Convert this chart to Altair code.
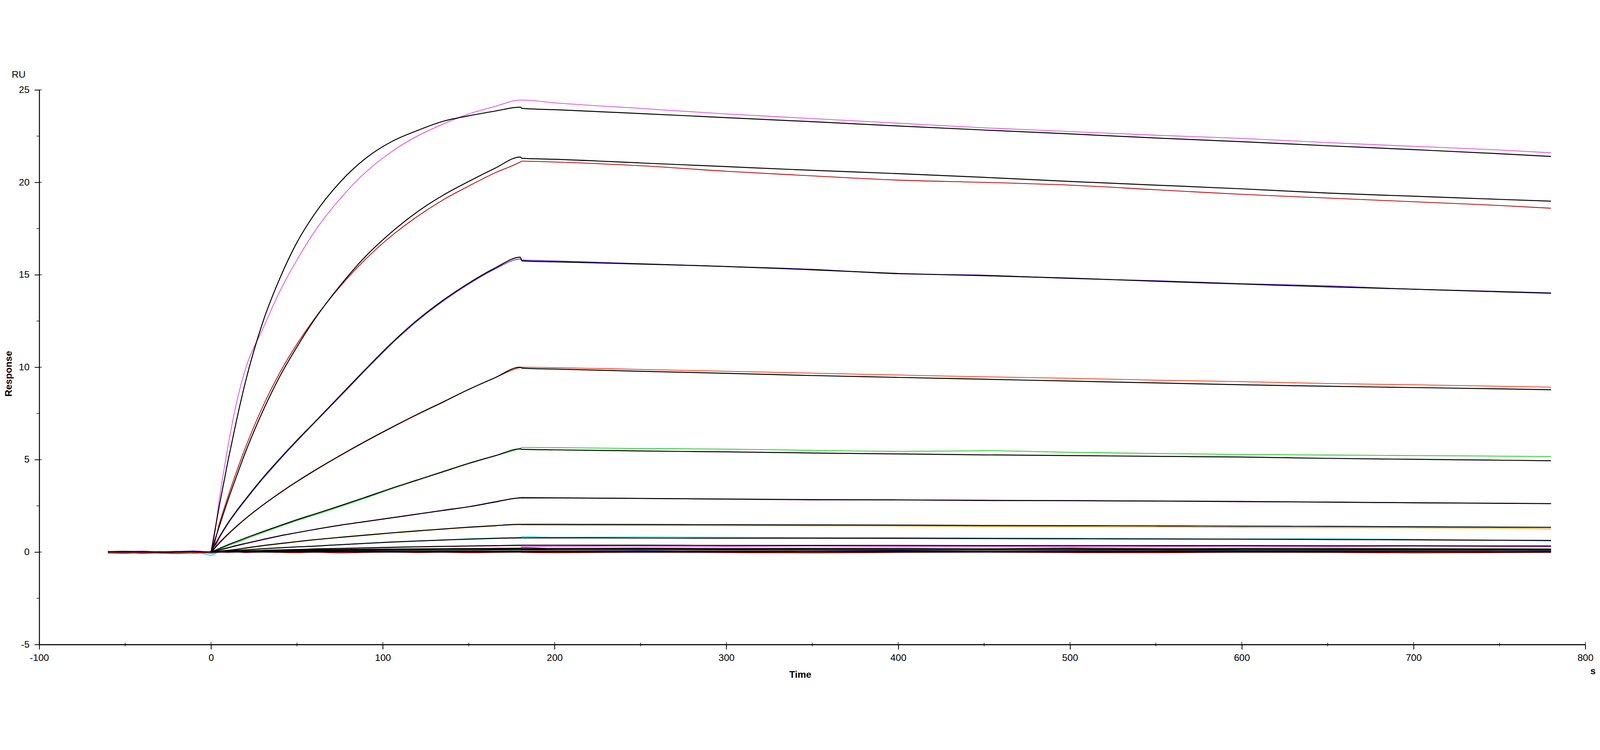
import altair as alt
import pandas as pd

# ---------------- data ----------------
TIME = [-60, -50, -40, -30, -20, -10, -3, 0,
        5, 10, 15, 20, 30, 40, 50, 60, 75, 90, 105, 120, 135, 150, 165, 180,
        181, 200, 250, 300, 350, 400, 450, 500, 550, 600, 650, 700, 750, 780]
FIT_START = 7  # fitted curves start at t = 0

SERIES_NAMES = ["c1", "c2", "c3", "c4", "c5", "c6", "c7", "c8", "c9", "c10", "c11", "c12", "c13"]
SERIES_COLORS = ["#e452e4", "#b80a0a", "#5c22e0", "#ff3c16", "#22cc22", "#b022b4",
                 "#e2a020", "#22d0da", "#f040f0", "#0c480c", "#0c16c4", "#f01414", "#000000"]

data_c1 = [-0.03, 0.02, -0.01, -0.04, 0.01, -0.02, 0.0, 0.05,
           3.0, 5.8, 8.15, 9.9, 12.05, 14.1, 15.8, 17.3, 19.1, 20.55, 21.65, 22.5, 23.15, 23.7, 24.1, 24.45,
           24.45, 24.3, 24.0, 23.7, 23.45, 23.2, 22.95, 22.75, 22.55, 22.38, 22.15, 21.95, 21.75, 21.6]
fit_c1 = [0.0, 2.6, 5.0, 7.2, 9.2, 12.4, 14.8, 16.75, 18.25, 20.0, 21.3, 22.2, 22.8, 23.3, 23.6, 23.85, 24.07,
          24.0, 23.93, 23.72, 23.5, 23.28, 23.05, 22.83, 22.62, 22.4, 22.2, 21.98, 21.77, 21.55, 21.4]

data_c2 = [-0.06, -0.04, -0.07, -0.05, -0.03, -0.06, -0.04, 0.0,
           1.6, 3.05, 4.4, 5.65, 7.85, 9.7, 11.25, 12.6, 14.35, 15.85, 17.1, 18.15, 19.05, 19.8, 20.5, 21.1,
           21.15, 21.1, 20.9, 20.6, 20.35, 20.12, 20.0, 19.85, 19.6, 19.35, 19.15, 18.95, 18.75, 18.6]
fit_c2 = [0.0, 1.45, 2.85, 4.15, 5.4, 7.6, 9.5, 11.1, 12.55, 14.4, 16.0, 17.3, 18.4, 19.3, 20.05, 20.75, 21.37,
          21.3, 21.25, 21.05, 20.85, 20.65, 20.47, 20.27, 20.05, 19.85, 19.65, 19.42, 19.25, 19.08, 18.98]

data_c3 = [0.02, 0.04, 0.01, 0.03, 0.02, 0.04, 0.01, -0.02,
           0.8, 1.55, 2.2, 2.8, 3.95, 5.0, 6.0, 6.97, 8.4, 9.85, 11.25, 12.5, 13.57, 14.5, 15.3, 15.85,
           15.8, 15.75, 15.6, 15.45, 15.3, 15.05, 14.98, 14.8, 14.68, 14.52, 14.4, 14.22, 14.1, 14.02]
fit_c3 = [0.0, 0.85, 1.6, 2.25, 2.85, 4.0, 5.05, 6.05, 7.0, 8.45, 9.9, 11.3, 12.55, 13.62, 14.55, 15.35, 15.95,
          15.75, 15.7, 15.58, 15.45, 15.27, 15.07, 14.95, 14.82, 14.65, 14.5, 14.35, 14.22, 14.08, 14.0]

data_c4 = [-0.01, 0.02, 0.0, 0.03, -0.02, 0.01, 0.02, 0.03,
           0.55, 1.0, 1.43, 1.82, 2.53, 3.18, 3.8, 4.38, 5.2, 5.98, 6.72, 7.43, 8.1, 8.8, 9.42, 9.98,
           10.0, 9.98, 9.88, 9.78, 9.68, 9.58, 9.48, 9.4, 9.3, 9.22, 9.12, 9.05, 8.97, 8.92]
fit_c4 = [0.0, 0.5, 0.97, 1.4, 1.8, 2.53, 3.2, 3.82, 4.4, 5.22, 6.0, 6.74, 7.45, 8.12, 8.8, 9.42, 10.0,
          9.95, 9.9, 9.78, 9.67, 9.55, 9.45, 9.35, 9.25, 9.15, 9.05, 8.97, 8.9, 8.83, 8.78]

data_c5 = [0.03, 0.05, 0.02, 0.04, 0.01, 0.03, 0.0, -0.05,
           0.15, 0.35, 0.52, 0.7, 1.05, 1.38, 1.7, 2.0, 2.45, 2.92, 3.42, 3.88, 4.33, 4.78, 5.2, 5.62,
           5.66, 5.65, 5.6, 5.57, 5.5, 5.45, 5.48, 5.4, 5.33, 5.28, 5.25, 5.22, 5.19, 5.17]
fit_c5 = [0.0, 0.2, 0.4, 0.58, 0.76, 1.1, 1.43, 1.75, 2.05, 2.5, 2.97, 3.45, 3.9, 4.35, 4.8, 5.2, 5.58,
          5.56, 5.53, 5.47, 5.42, 5.36, 5.31, 5.26, 5.22, 5.18, 5.14, 5.07, 5.02, 4.97, 4.94]

data_c6 = [0.01, -0.02, 0.02, 0.0, -0.01, 0.02, -0.03, 0.0,
           0.1, 0.22, 0.34, 0.45, 0.66, 0.87, 1.05, 1.22, 1.46, 1.66, 1.86, 2.06, 2.27, 2.46, 2.72, 2.95,
           2.96, 2.94, 2.9, 2.86, 2.82, 2.83, 2.78, 2.79, 2.76, 2.72, 2.71, 2.66, 2.64, 2.62]
fit_c6 = [0.0, 0.12, 0.24, 0.36, 0.47, 0.68, 0.88, 1.05, 1.22, 1.45, 1.65, 1.85, 2.05, 2.25, 2.45, 2.7, 2.93,
          2.93, 2.93, 2.9, 2.87, 2.84, 2.82, 2.8, 2.78, 2.76, 2.74, 2.7, 2.67, 2.64, 2.62]

data_c7 = [-0.02, 0.01, -0.03, 0.02, 0.0, -0.02, 0.01, 0.02,
           0.04, 0.09, 0.14, 0.2, 0.33, 0.44, 0.55, 0.65, 0.78, 0.9, 1.02, 1.13, 1.23, 1.33, 1.41, 1.48,
           1.46, 1.45, 1.44, 1.43, 1.42, 1.41, 1.38, 1.37, 1.36, 1.33, 1.32, 1.31, 1.29, 1.25]
fit_c7 = [0.0, 0.05, 0.1, 0.15, 0.22, 0.35, 0.46, 0.57, 0.67, 0.8, 0.92, 1.04, 1.15, 1.25, 1.35, 1.43, 1.5,
          1.5, 1.5, 1.49, 1.48, 1.47, 1.46, 1.44, 1.43, 1.42, 1.4, 1.39, 1.37, 1.35, 1.34]

data_c8 = [0.04, 0.01, 0.05, 0.02, 0.03, 0.0, -0.12, -0.18,
           0.02, 0.05, 0.08, 0.11, 0.18, 0.24, 0.28, 0.33, 0.4, 0.47, 0.55, 0.6, 0.66, 0.72, 0.76, 0.8,
           0.84, 0.8, 0.82, 0.8, 0.78, 0.79, 0.76, 0.75, 0.72, 0.71, 0.72, 0.69, 0.64, 0.6]
fit_c8 = [0.0, 0.03, 0.06, 0.09, 0.12, 0.18, 0.23, 0.28, 0.32, 0.4, 0.47, 0.54, 0.6, 0.65, 0.7, 0.74, 0.77,
          0.77, 0.77, 0.76, 0.75, 0.75, 0.74, 0.73, 0.72, 0.71, 0.7, 0.68, 0.66, 0.64, 0.63]

data_c9 = [0.0, 0.03, -0.02, 0.01, 0.04, 0.0, -0.05, -0.08,
           0.0, 0.02, 0.03, 0.05, 0.07, 0.1, 0.13, 0.16, 0.19, 0.22, 0.24, 0.27, 0.3, 0.32, 0.33, 0.35,
           0.3, 0.31, 0.32, 0.3, 0.33, 0.3, 0.31, 0.29, 0.3, 0.31, 0.3, 0.32, 0.3, 0.29]
fit_c9 = [0.0, 0.02, 0.03, 0.05, 0.06, 0.09, 0.12, 0.14, 0.17, 0.2, 0.23, 0.26, 0.29, 0.31, 0.33, 0.35, 0.37,
          0.37, 0.37, 0.37, 0.36, 0.36, 0.36, 0.35, 0.35, 0.35, 0.35, 0.34, 0.34, 0.33, 0.33]

data_c10 = [0.02, 0.05, 0.03, 0.01, 0.04, 0.02, 0.0, 0.02,
            0.03, 0.04, 0.06, 0.07, 0.09, 0.11, 0.12, 0.13, 0.15, 0.16, 0.17, 0.18, 0.19, 0.2, 0.21, 0.22,
            0.24, 0.2, 0.22, 0.19, 0.21, 0.2, 0.18, 0.22, 0.19, 0.2, 0.21, 0.19, 0.18, 0.17]
fit_c10 = [0.0, 0.01, 0.02, 0.03, 0.04, 0.06, 0.08, 0.09, 0.11, 0.12, 0.14, 0.15, 0.16, 0.17, 0.17, 0.18, 0.18,
           0.18, 0.18, 0.18, 0.18, 0.17, 0.17, 0.17, 0.17, 0.16, 0.16, 0.16, 0.15, 0.15, 0.15]

data_c11 = [0.04, 0.02, 0.05, 0.01, 0.03, 0.06, 0.02, 0.0,
            0.02, 0.03, 0.04, 0.05, 0.06, 0.07, 0.08, 0.09, 0.1, 0.11, 0.1, 0.12, 0.11, 0.12, 0.13, 0.12,
            0.15, 0.12, 0.1, 0.13, 0.11, 0.09, 0.12, 0.1, 0.11, 0.09, 0.1, 0.12, 0.09, 0.08]
fit_c11 = [0.0, 0.01, 0.02, 0.02, 0.03, 0.04, 0.05, 0.06, 0.07, 0.08, 0.09, 0.1, 0.1, 0.11, 0.11, 0.12, 0.12,
           0.12, 0.12, 0.12, 0.12, 0.11, 0.11, 0.11, 0.11, 0.11, 0.1, 0.1, 0.1, 0.1, 0.1]

data_c12 = [-0.05, -0.07, -0.04, -0.06, -0.08, -0.05, -0.03, 0.0,
            0.0, -0.02, 0.01, -0.03, 0.0, -0.02, -0.04, -0.01, -0.05, -0.02, 0.0, -0.03, -0.01, -0.04, -0.02, 0.0,
            -0.02, -0.04, -0.01, -0.03, -0.05, -0.02, 0.0, -0.03, -0.04, -0.01, -0.02, -0.05, -0.03, -0.02]
fit_c12 = [0.0, 0.0, 0.01, 0.01, 0.01, 0.01, 0.02, 0.02, 0.02, 0.02, 0.03, 0.03, 0.03, 0.03, 0.03, 0.03, 0.03,
           0.03, 0.03, 0.03, 0.03, 0.03, 0.03, 0.03, 0.03, 0.03, 0.03, 0.03, 0.03, 0.03, 0.03]

# black trace that sits on the zero line through the whole run
data_c13 = [0.0, 0.01, 0.0, -0.01, 0.0, 0.01, 0.0, 0.0,
            0.01, 0.01, 0.02, 0.02, 0.02, 0.03, 0.03, 0.03, 0.04, 0.04, 0.04, 0.04, 0.05, 0.05, 0.05, 0.05,
            0.05, 0.05, 0.04, 0.05, 0.04, 0.05, 0.04, 0.04, 0.05, 0.04, 0.04, 0.04, 0.03, 0.03]
fit_c13 = [0.0, 0.0, 0.0, 0.0, 0.0, 0.0, 0.0, 0.0, 0.0, 0.0, 0.0, 0.0, 0.0, 0.0, 0.0, 0.0, 0.0,
           0.0, 0.0, 0.0, 0.0, 0.0, 0.0, 0.0, 0.0, 0.0, 0.0, 0.0, 0.0, 0.0, 0.0]

DATA = [data_c1, data_c2, data_c3, data_c4, data_c5, data_c6, data_c7,
        data_c8, data_c9, data_c10, data_c11, data_c12, data_c13]
FITS = [fit_c1, fit_c2, fit_c3, fit_c4, fit_c5, fit_c6, fit_c7,
        fit_c8, fit_c9, fit_c10, fit_c11, fit_c12, fit_c13]

X_TICKS = [-100, 0, 100, 200, 300, 400, 500, 600, 700, 800]
X_MINOR = [-50, 50, 150, 250, 350, 450, 550, 650, 750]
Y_TICKS = [-5, 0, 5, 10, 15, 20, 25]
Y_MINOR = [-2.5, 2.5, 7.5, 12.5, 17.5, 22.5]
X_TITLE = "Time"
Y_TITLE = "Response"
Y_UNIT = "RU"
X_UNIT = "s"

# ---------------- tables ----------------
for d in DATA:
    assert len(d) == len(TIME), len(d)
for f in FITS:
    assert len(f) == len(TIME) - FIT_START, len(f)

rows_data, rows_fit = [], []
for name, dvals, fvals in zip(SERIES_NAMES, DATA, FITS):
    for t, v in zip(TIME, dvals):
        rows_data.append({"t": t, "v": v, "s": name})
    for t, v in zip(TIME[FIT_START:], fvals):
        rows_fit.append({"t": t, "v": v, "s": name})
df_data = pd.DataFrame(rows_data)
df_fit = pd.DataFrame(rows_fit)

FONT = "Liberation Sans"
W, H = 4834, 1734

x_axis = alt.Axis(values=X_TICKS, labelExpr="'' + datum.value", title=X_TITLE,
                  grid=False, domainColor="black", domainWidth=3.5, tickColor="black",
                  tickWidth=2.5, tickSize=15, labelPadding=12, labelFont=FONT,
                  labelFontSize=30, labelColor="black", labelFlush=False, labelOverlap=False,
                  titleFont=FONT, titleFontSize=30, titleFontWeight="bold", titleColor="black",
                  titleX=2379, titleY=94, titleBaseline="middle", titleAlign="center")
y_axis = alt.Axis(values=Y_TICKS, labelExpr="'' + datum.value", title=Y_TITLE,
                  grid=False, domainColor="black", domainWidth=3, tickColor="black",
                  tickWidth=2.5, tickSize=15, labelPadding=16, labelFont=FONT,
                  labelFontSize=30, labelColor="black", labelFlush=False, labelOverlap=False,
                  titleFont=FONT, titleFontSize=30, titleFontWeight="bold", titleColor="black",
                  titleX=-96, titleY=887, titleAngle=270, titleBaseline="middle",
                  titleAlign="center")

X = alt.X("t:Q", scale=alt.Scale(domain=[-100, 800], nice=False, zero=False), axis=x_axis)
Y = alt.Y("v:Q", scale=alt.Scale(domain=[-5, 25], nice=False, zero=False), axis=y_axis)

data_lines = alt.Chart(df_data).mark_line(strokeWidth=2.5, interpolate="monotone", clip=True).encode(
    x=X, y=Y,
    color=alt.Color("s:N", scale=alt.Scale(domain=SERIES_NAMES, range=SERIES_COLORS), legend=None),
    detail="s:N", order="t:Q")

fit_lines = alt.Chart(df_fit).mark_line(strokeWidth=3, color="black", interpolate="monotone",
                                         clip=True).encode(
    x=X, y=Y, detail="s:N", order="t:Q")

df_ymin = pd.DataFrame({"t": [-100] * len(Y_MINOR), "v": Y_MINOR})
df_ymaj = pd.DataFrame({"t": [-100] * len(Y_TICKS), "v": Y_TICKS})
df_xmin = pd.DataFrame({"t": X_MINOR, "v": [-5] * len(X_MINOR)})
df_xmaj = pd.DataFrame({"t": X_TICKS, "v": [-5] * len(X_TICKS)})

y_minor = alt.Chart(df_ymin).mark_tick(orient="horizontal", size=9, thickness=2.5,
                                        color="black", xOffset=-4).encode(x=X, y=Y)
y_inner = alt.Chart(df_ymaj).mark_tick(orient="horizontal", size=8, thickness=2.5,
                                        color="black", xOffset=4).encode(x=X, y=Y)
x_minor = alt.Chart(df_xmin).mark_tick(orient="vertical", size=12, thickness=2.5,
                                        color="black").encode(x=X, y=Y)
x_inner = alt.Chart(df_xmaj).mark_tick(orient="vertical", size=8, thickness=2.5,
                                        color="black", yOffset=-4).encode(x=X, y=Y)

ru_text = alt.Chart(pd.DataFrame({"label": [Y_UNIT]})).mark_text(
    font=FONT, fontSize=30, color="black", align="left", baseline="alphabetic").encode(
    x=alt.value(-86), y=alt.value(-38), text="label:N")
s_text = alt.Chart(pd.DataFrame({"label": [X_UNIT]})).mark_text(
    font=FONT, fontSize=30, fontWeight="bold", color="black", align="center",
    baseline="middle").encode(x=alt.value(4858), y=alt.value(1818), text="label:N")

chart = alt.layer(data_lines, fit_lines, y_minor, y_inner, x_minor, x_inner, ru_text, s_text).properties(
    width=W, height=H,
    autosize=alt.AutoSizeParams(type="none"),
    padding={"left": 113, "top": 62, "right": 36, "bottom": 96},
    background="white",
).configure_view(stroke=None)

chart.save("out.html", embed_options={"renderer": "svg", "actions": False})
